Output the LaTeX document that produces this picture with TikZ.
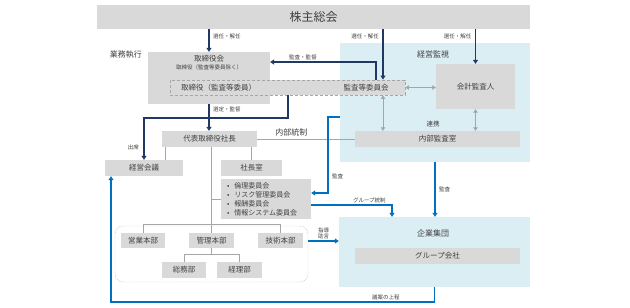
\documentclass[tikz,border=0pt]{standalone}
\usepackage{fontspec}
\setmainfont{Noto Sans CJK JP}
\usetikzlibrary{arrows.meta,positioning}
\definecolor{BoxGray}{RGB}{217,217,217}
\definecolor{PaleBlue}{RGB}{219,238,244}
\definecolor{DeepNavy}{RGB}{31,56,100}
\definecolor{LinkBlue}{RGB}{0,112,192}
\definecolor{LineGray}{RGB}{166,166,166}
\definecolor{TextGray}{RGB}{64,64,64}

\begin{document}
\begin{tikzpicture}[
  x=1pt,y=-1pt,
  >={Triangle[length=4pt,width=5pt]},
  box/.style={fill=BoxGray,inner sep=0pt,minimum height=16pt,text=TextGray,
              font=\fontsize{7.5}{9}\selectfont},
  zone/.style={fill=PaleBlue,inner sep=0pt},
  txt/.style={text=TextGray,inner sep=0pt,font=\fontsize{7.5}{9}\selectfont},
  title/.style={text=TextGray,inner sep=0pt,font=\fontsize{8}{9}\selectfont},
  lbl/.style={text=TextGray,inner sep=1.5pt,font=\fontsize{5.5}{6.5}\selectfont},
  navyarrow/.style={draw=DeepNavy,line width=1.4pt,->},
  bluearrow/.style={draw=LinkBlue,line width=1.1pt,->},
  grayline/.style={draw=LineGray,line width=0.9pt},
  grayarrow/.style={draw=LineGray,line width=0.9pt,
                    {Triangle[length=3.5pt,width=4.5pt]}-{Triangle[length=3.5pt,width=4.5pt]}},
]
\useasboundingbox (0,0) rectangle (630,308);
% shareholders and board
\node[box,minimum width=433,minimum height=24,font=\fontsize{12}{14}\selectfont] (agm) at (313.5,17) {株主総会};
\node[title,anchor=east] (exec) at (142,55) {業務執行};
\node[box,minimum width=122,minimum height=52] (board) at (209,78) {};
\node[txt] (boardname) at (209,59) {取締役会};
\node[lbl] (boardsub) at (209,67.5) {取締役（監査等委員除く）};
\node[zone,minimum width=190,minimum height=119] (mon) at (435,102.5) {};
\node[title] (montitle) at (433,54) {経営監視};
\node[box,draw=LineGray,dash pattern=on 3pt off 2pt,line width=0.9pt,
      minimum width=235,minimum height=15] (dual) at (287.5,87.5) {};
\node[txt,anchor=west] (dualdir) at (181,87.5) {取締役（監査等委員）};
\node[txt] (dualcom) at (366,88) {監査等委員会};
\node[box,minimum width=79,minimum height=45] (accaud) at (475.5,86.5) {会計監査人};
\node[box,minimum width=165] (iaud) at (437.5,139) {内部監査室};
\node[lbl,font=\fontsize{6.5}{8}\selectfont] (coop) at (433,124) {連携};
% executive side
\node[box,minimum width=95] (ceo) at (209.5,139) {代表取締役社長};
\node[box,minimum width=78] (mgmt) at (144,168) {経営会議};
\node[box,minimum width=61] (pres) at (251.5,168) {社長室};
\node[box,minimum width=90,minimum height=40,text width=78pt,align=left,
      font=\fontsize{7}{9}\selectfont] (cmte) at (266,199)
  {\textbullet\hspace{5pt}倫理委員会\\\textbullet\hspace{5pt}リスク管理委員会\\
   \textbullet\hspace{5pt}報酬委員会\\\textbullet\hspace{5pt}情報システム委員会};
\node[draw=LineGray!70,dash pattern=on 1.5pt off 1pt,rounded corners=8pt,
      minimum width=193,minimum height=56,inner sep=0pt] (dept) at (211.5,254) {};
\node[box,minimum width=44,minimum height=15] (sales) at (143,240.5) {営業本部};
\node[box,minimum width=45,minimum height=15] (admin) at (211.5,240.5) {管理本部};
\node[box,minimum width=45,minimum height=15] (tech) at (280.5,240.5) {技術本部};
\node[box,minimum width=44] (ga) at (184,270) {総務部};
\node[box,minimum width=45] (acct) at (239.5,270) {経理部};
% group companies
\node[zone,minimum width=191,minimum height=70] (group) at (434.5,252) {};
\node[title] (grouptitle) at (433,233) {企業集団};
\node[box,minimum width=165] (grpco) at (437.5,256) {グループ会社};

\coordinate (colA) at (383,0);
\coordinate (colB) at (376,62);
\coordinate (attend) at (288,118);
\coordinate (colC) at (165,0);
\coordinate (bar) at (0,224);
\coordinate (sub) at (0,254);
\coordinate (audA) at (328,117);
\coordinate (audB) at (328,193);
\coordinate (ctl) at (392,205);
\coordinate (advise) at (0,241);
\coordinate (prop) at (111,302);

% appointment and supervision
\draw[navyarrow] (agm.south -| board.north) -- (board.north)
  node[lbl,pos=0.3,right,xshift=2pt]{選任・解任};
\draw[navyarrow] (agm.south -| colA) -- (dual.north -| colA)
  node[lbl,pos=0.14,left,xshift=-2pt]{選任・解任};
\draw[navyarrow] (agm.south -| accaud.north) -- (accaud.north)
  node[lbl,pos=0.2,left,xshift=-2pt]{選任・解任};
\draw[navyarrow] (dual.north -| colB) |- (board.east |- colB)
  node[lbl,pos=0.845,above]{監査・監督};
\draw[navyarrow] (board.south) -- (ceo.north -| board.south)
  node[lbl,pos=0.2,right,xshift=2pt]{選定・監督};
\draw[navyarrow] (dual.south -| attend) -- (attend) -| (mgmt.north)
  node[lbl,pos=0.857,left,xshift=-3pt]{出席};
% cooperation
\draw[grayarrow] (dual.east) -- (accaud.west |- dual.east);
\draw[grayarrow] (dual.south -| colA) -- (iaud.north -| colA);
\draw[grayarrow] (accaud.south) -- (iaud.north -| accaud.south);
\draw[grayline] (ceo.east) -- (iaud.west)
  node[title,pos=0.35,above=2pt]{内部統制};
% organisation tree
\draw[grayline] (ceo.south -| colC) -- (mgmt.north -| colC);
\draw[grayline] (ceo.south -| pres.north) -- (pres.north);
\draw[grayline] (ceo.south -| admin.north) -- (admin.north);
\draw[grayline] (cmte.west -| admin.north) -- (cmte.west);
\draw[grayline] (sales.north) -- (sales.north |- bar) -- (tech.north |- bar) -- (tech.north);
\draw[grayline] (admin.south) -- (admin.south |- sub);
\draw[grayline] (ga.north) -- (ga.north |- sub) -- (acct.north |- sub) -- (acct.north);
% audit and group control
\draw[bluearrow] (mon.west |- audA) -- (audA) -- (audB)
  node[lbl,pos=0.78,right,xshift=2pt]{監査} -- (cmte.east |- audB);
\draw[bluearrow] (cmte.east |- ctl) -| (group.north -| ctl)
  node[lbl,pos=0.36,above]{グループ統制};
\draw[bluearrow] (mon.south) -- (group.north -| mon.south)
  node[lbl,midway,right,xshift=2pt]{監査};
\draw[bluearrow] (dept.east |- advise) -- (group.west |- advise)
  node[lbl,midway,above,align=center]{指導\\助言};
\draw[bluearrow] (group.south) -- (group.south |- prop) -- (prop)
  node[lbl,pos=0.15,above]{議案の上程} -- (mgmt.south -| prop);
\end{tikzpicture}
\end{document}
